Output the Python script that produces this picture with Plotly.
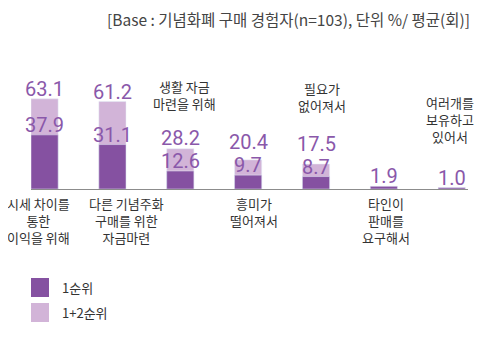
import plotly.graph_objects as go

categories = ["시세 차이를<br>통한<br>이익을 위해", "다른 기념주화<br>구매를 위한<br>자금마련",
              "생활 자금<br>마련을 위해", "흥미가<br>떨어져서", "필요가<br>없어져서",
              "타인이<br>판매를<br>요구해서", "여러개를<br>보유하고<br>있어서"]
rank1 = [37.9, 31.1, 12.6, 9.7, 8.7, 1.9, 1.0]
rank12 = [63.1, 61.2, 28.2, 20.4, 17.5, None, None]
series_names = ["1순위", "1+2순위"]
title_text = "[Base : 기념화폐 구매 경험자(n=103), 단위 %/ 평균(회)]"

DARK = "#8551a1"
LIGHT = "#d2b4d8"
TXT = "#8a58aa"
KFONT = "Noto Sans CJK KR"
NFONT = "Liberation Sans Narrow, Roboto"
OFF = 8  # page body margin compensation

YMAX = 70
PLOT_H = 100
PX = PLOT_H / YMAX

xs = list(range(len(categories)))

fig = go.Figure()
fig.add_trace(go.Bar(x=xs, y=rank12, name=series_names[1], marker_color=LIGHT,
                     width=0.4, showlegend=False))
fig.add_trace(go.Bar(x=xs, y=rank1, name=series_names[0], marker_color=DARK,
                     width=0.4, showlegend=False))

annotations = []
VFONT = dict(family=NFONT, size=20, color=TXT)
BASE_SHIFT = -4
for i in xs:
    annotations.append(dict(x=i, y=rank1[i], xref="x", yref="y", text=f"{rank1[i]:.1f}",
                            showarrow=False, yanchor="bottom", yshift=BASE_SHIFT, font=VFONT))
    if rank12[i] is not None:
        gap = (rank12[i] - rank1[i]) * PX
        extra = max(0, 23 - gap)
        annotations.append(dict(x=i, y=rank12[i], xref="x", yref="y", text=f"{rank12[i]:.1f}",
                                showarrow=False, yanchor="bottom", yshift=BASE_SHIFT + extra,
                                font=VFONT))

# label placement: above (paper y of bottom) or below; horizontal nudges
above_y = {2: 0.74, 4: 0.72, 6: 0.41}
nudge = {0: -6, 1: 14, 2: 4, 3: 6, 4: 6, 5: 2, 6: -2}
for i, cat in enumerate(categories):
    common = dict(x=i, xref="x", text=cat, showarrow=False, xanchor="center",
                  xshift=nudge.get(i, 0), font=dict(family=KFONT, size=13, color="#333333"))
    if i in above_y:
        annotations.append(dict(y=above_y[i], yref="paper", yanchor="bottom", **common))
    else:
        annotations.append(dict(y=-0.03, yref="paper", yanchor="top", **common))

# custom legend
shapes = []
leg_colors = [DARK, LIGHT]
leg_y = [-0.985, -1.235]
for j, (nm, col) in enumerate(zip(series_names, leg_colors)):
    shapes.append(dict(type="rect", xref="paper", yref="paper", xsizemode="pixel", ysizemode="pixel",
                       xanchor=0, yanchor=leg_y[j], x0=0, x1=18, y0=-9.5, y1=9.5,
                       fillcolor=col, line=dict(width=0)))
    annotations.append(dict(x=0, xref="paper", y=leg_y[j], yref="paper", xshift=29, text=nm,
                            showarrow=False, xanchor="left", yanchor="middle",
                            font=dict(family=KFONT, size=13, color="#333333")))

fig.update_layout(
    width=485, height=363,
    margin=dict(l=31 - OFF, r=17 + OFF, t=89 - OFF, b=174 + OFF),
    barmode="overlay",
    plot_bgcolor="white", paper_bgcolor="white",
    title=dict(text=title_text, x=(470 - OFF) / 485, xanchor="right", xref="container",
               y=1 - (21 - OFF) / 363, yanchor="middle", yref="container",
               font=dict(family=KFONT, size=15.5, color="#444444")),
    xaxis=dict(range=[-0.2, 6.24], showticklabels=False, showgrid=False, zeroline=False,
               showline=True, linecolor="#8c8c8c", linewidth=1, ticks=""),
    yaxis=dict(range=[0, YMAX], visible=False),
    annotations=annotations, shapes=shapes,
)

fig.write_html("out.html")
